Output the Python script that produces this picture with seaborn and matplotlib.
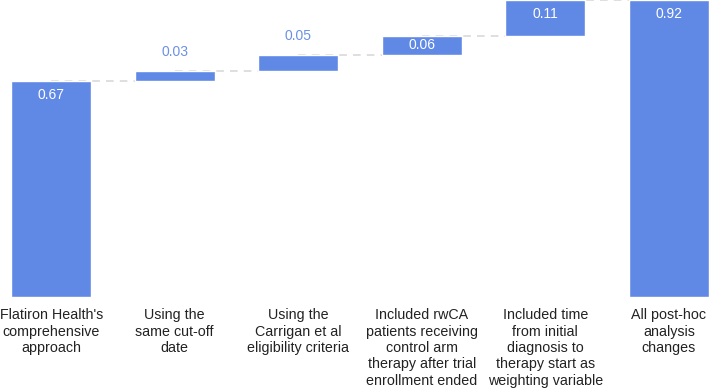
import numpy as np
import pandas as pd
import seaborn as sns
import matplotlib.pyplot as plt

# waterfall data
steps = ["Flatiron Health's\ncomprehensive\napproach",
         "Using the\nsame cut-off\ndate",
         "Using the\nCarrigan et al\neligibility criteria",
         "Included rwCA\npatients receiving\ncontrol arm\ntherapy after trial\nenrollment ended",
         "Included time\nfrom initial\ndiagnosis to\ntherapy start as\nweighting variable",
         "All post-hoc\nanalysis\nchanges"]
changes = [0.67, 0.03, 0.05, 0.06, 0.11, 0.92]
is_total = [True, False, False, False, False, True]

bar_color = "#6088e5"
label_blue = "#6b90e6"

# running bottoms
bottoms = []
running = 0.0
for val, tot in zip(changes, is_total):
    if tot:
        bottoms.append(0.0)
        running = val
    else:
        bottoms.append(running)
        running += val

df = pd.DataFrame({"step": steps, "change": changes, "bottom": bottoms})

sns.set_theme(style="white")
plt.rcParams['font.family'] = ['Liberation Sans', 'DejaVu Sans']

fig = plt.figure(figsize=(7.09, 3.88), dpi=100)
ax = fig.add_axes([0, 0.2345, 1, 0.7655])

sns.barplot(data=df, x="step", y="change", bottom=df["bottom"].values,
            color=bar_color, saturation=1, width=0.65, ax=ax, zorder=2)

# dashed connectors
tops = df["bottom"] + df["change"]
for i in range(len(df) - 1):
    ax.plot([i, i + 1 + 0.325], [tops[i], tops[i]], ls=(0, (5, 4)),
            color="#d6d6d6", lw=1.1, zorder=1)

# value labels
for i, (b, h) in enumerate(zip(df["bottom"], df["change"])):
    top = b + h
    if h > 0.055:
        y = top - min(0.043, h / 2)
        ax.text(i, y, f"{h:.2f}", ha="center", va="center",
                color="white", fontsize=10)
    else:
        ax.text(i, top + 0.06, f"{h:.2f}", ha="center", va="center",
                color=label_blue, fontsize=10)

ax.set_xlim(-0.414, 5.325)
ax.set_ylim(0, 0.921)
ax.set_xlabel("")
ax.set_ylabel("")
ax.set_yticks([])
ax.tick_params(axis="x", length=0, pad=8, labelsize=10.3, colors="#222222")
for lbl in ax.get_xticklabels():
    lbl.set_linespacing(1.22)
sns.despine(ax=ax, left=True, bottom=True)

fig.savefig("out.png", dpi=100)
